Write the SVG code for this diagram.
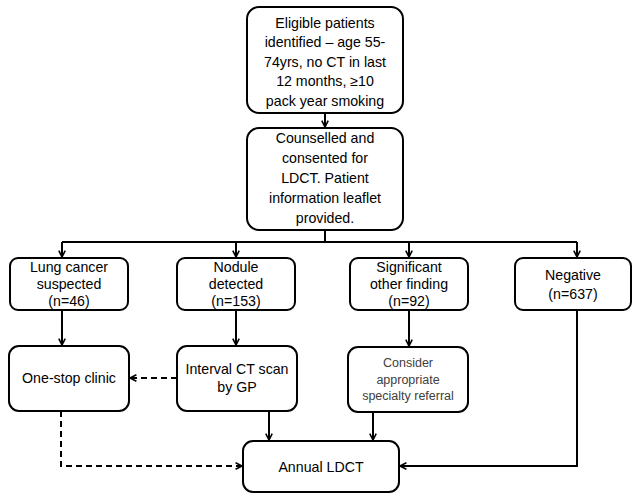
<svg xmlns="http://www.w3.org/2000/svg" width="633" height="494" viewBox="0 0 633 494">
<defs>
<marker id="arr" viewBox="0 0 10 10" refX="9" refY="5" markerWidth="8" markerHeight="9" markerUnits="userSpaceOnUse" orient="auto" overflow="visible">
<path d="M1,1 L9,5 L1,9" fill="none" stroke="#000" stroke-width="2"/>
</marker>
<style>
.box{fill:#fff;stroke:#000;stroke-width:2}
.t{font-family:"Liberation Sans",Arial,sans-serif;font-size:14.2px;fill:#000;text-anchor:middle}
.s{font-family:"Liberation Sans",Arial,sans-serif;font-size:12.5px;fill:#404040;text-anchor:middle}
.c{fill:none;stroke:#000;stroke-width:2}
.d{stroke-dasharray:6,4}
</style>
</defs>
<g id="connectors">
<path class="c" d="M325,113 L325,127" marker-end="url(#arr)"/>
<path class="c" d="M325,230 L325,242 M62,242 L577,242"/>
<path class="c" d="M62,242 L62,257" marker-end="url(#arr)"/>
<path class="c" d="M236,242 L236,257" marker-end="url(#arr)"/>
<path class="c" d="M409,242 L409,257" marker-end="url(#arr)"/>
<path class="c" d="M577,242 L577,257" marker-end="url(#arr)"/>
<path class="c" d="M62,310 L62,345" marker-end="url(#arr)"/>
<path class="c" d="M236,310 L236,345" marker-end="url(#arr)"/>
<path class="c" d="M409,310 L409,346" marker-end="url(#arr)"/>
<path class="c" d="M577,310 L577,466 L400,466" marker-end="url(#arr)"/>
<path class="c" d="M269,411 L269,440" marker-end="url(#arr)"/>
<path class="c" d="M373,412 L373,440" marker-end="url(#arr)"/>
<path class="c d" d="M177,378 L130,378" marker-end="url(#arr)"/>
<path class="c d" d="M61,411 L61,466 L242,466" marker-end="url(#arr)"/>
</g>
<g id="eligible">
<rect class="box" x="247" y="7" width="156" height="106" rx="12"/>
<text class="t" x="325" y="28">Eligible patients</text>
<text class="t" x="325" y="47">identified – age 55-</text>
<text class="t" x="325" y="67">74yrs, no CT in last</text>
<text class="t" x="325" y="86">12 months, ≥10</text>
<text class="t" x="325" y="106">pack year smoking</text>
</g>
<g id="counselled">
<rect class="box" x="247" y="128" width="156" height="102" rx="12"/>
<text class="t" x="325" y="143">Counselled and</text>
<text class="t" x="325" y="163">consented for</text>
<text class="t" x="325" y="183">LDCT. Patient</text>
<text class="t" x="325" y="203">information leaflet</text>
<text class="t" x="325" y="223">provided.</text>
</g>
<g id="lung">
<rect class="box" x="10" y="258" width="118" height="52" rx="8"/>
<text class="t" x="69" y="272">Lung cancer</text>
<text class="t" x="69" y="289">suspected</text>
<text class="t" x="69" y="306">(n=46)</text>
</g>
<g id="nodule">
<rect class="box" x="177" y="258" width="118" height="52" rx="8"/>
<text class="t" x="236" y="272">Nodule</text>
<text class="t" x="236" y="289">detected</text>
<text class="t" x="236" y="306">(n=153)</text>
</g>
<g id="significant">
<rect class="box" x="350" y="258" width="118" height="52" rx="8"/>
<text class="t" x="409" y="272">Significant</text>
<text class="t" x="409" y="289">other finding</text>
<text class="t" x="409" y="306">(n=92)</text>
</g>
<g id="negative">
<rect class="box" x="515" y="258" width="116" height="52" rx="8"/>
<text class="t" x="573" y="280">Negative</text>
<text class="t" x="573" y="299">(n=637)</text>
</g>
<g id="onestop">
<rect class="box" x="9" y="346" width="120" height="65" rx="10"/>
<text class="t" x="69" y="383">One-stop clinic</text>
</g>
<g id="interval">
<rect class="box" x="177" y="346" width="120" height="65" rx="10"/>
<text class="t" x="237" y="374">Interval CT scan</text>
<text class="t" x="237" y="392">by GP</text>
</g>
<g id="consider">
<rect class="box" x="348" y="347" width="120" height="65" rx="10"/>
<text class="s" x="408" y="367">Consider</text>
<text class="s" x="408" y="384">appropriate</text>
<text class="s" x="408" y="400">specialty referral</text>
</g>
<g id="annual">
<rect class="box" x="243" y="441" width="156" height="51" rx="10"/>
<text class="t" x="321" y="472">Annual LDCT</text>
</g>
</svg>
